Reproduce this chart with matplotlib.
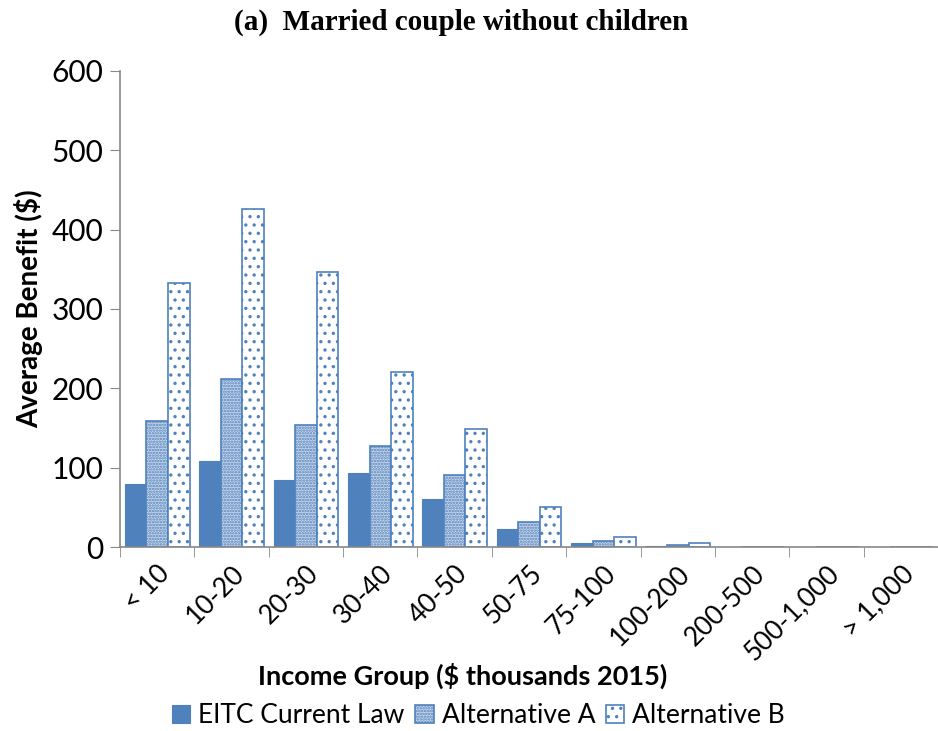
import matplotlib
matplotlib.use("Agg")
import matplotlib.pyplot as plt
import numpy as np

categories = ["< 10", "10-20", "20-30", "30-40", "40-50", "50-75", "75-100",
              "100-200", "200-500", "500-1,000", "> 1,000"]
eitc_current = [80, 108, 85, 93, 60, 23, 5, 1.5, 0, 0, 0]
alt_a = [159, 212, 154, 127, 91, 32, 8, 3, 0, 0, 0]
alt_b = [333, 426, 347, 221, 149, 50, 12, 5, 0, 0, 0]
series_names = ["EITC Current Law", "Alternative A", "Alternative B"]

plt.rcParams['font.family'] = ['Lato', 'DejaVu Sans']
plt.rcParams['hatch.linewidth'] = 1.2

blue = "#4F81BD"
fig = plt.figure(figsize=(9.38, 7.31), dpi=100)
ax = fig.add_axes([0.128, 0.2517, 0.872, 0.6512])

x = np.arange(len(categories))
w = 0.29
ax.bar(x - w, eitc_current, w, color=blue, edgecolor=blue, linewidth=0.8,
       label=series_names[0])
ax.bar(x, alt_a, w, color="#c9d7ea", edgecolor=blue, hatch="......",
       linewidth=1.2, label=series_names[1])
ax.bar(x + w, alt_b, w, color="white", edgecolor=blue, hatch="..",
       linewidth=1.2, label=series_names[2])

ax.set_xlim(-0.5, len(categories) - 0.5)
ax.set_ylim(0, 600)
ax.set_yticks(range(0, 601, 100))
ax.tick_params(axis='y', labelsize=21.5, length=7, color='#888888', direction='out', pad=5)
ax.set_xticks(x)
ax.set_xticklabels(categories, rotation=45, ha='right', rotation_mode='anchor',
                   fontsize=19)
ax.tick_params(axis='x', length=0, pad=10)
ax.set_xticks(np.arange(-0.5, len(categories), 1), minor=True)
ax.tick_params(axis='x', which='minor', length=7, color='#888888', direction='out')
for s in ['top', 'right']:
    ax.spines[s].set_visible(False)
for s in ['left', 'bottom']:
    ax.spines[s].set_color('#888888')
    ax.spines[s].set_linewidth(1.2)

ax.set_ylabel("Average Benefit ($)", fontsize=20, fontweight='bold', labelpad=6)
fig.text(0.493, 0.076, "Income Group ($ thousands 2015)", ha='center', va='center',
         fontsize=19.5, fontweight='bold')
fig.text(0.492, 0.969, "(a)  Married couple without children", ha='center', va='center',
         fontsize=21, fontweight='bold', family=['Liberation Serif', 'DejaVu Serif'])

fig.legend(loc='center', bbox_to_anchor=(0.51, 0.021), ncol=3, frameon=False,
           fontsize=19, handlelength=0.7, handleheight=0.7, handletextpad=0.3,
           columnspacing=0.4)

fig.savefig("out.png", dpi=100)
